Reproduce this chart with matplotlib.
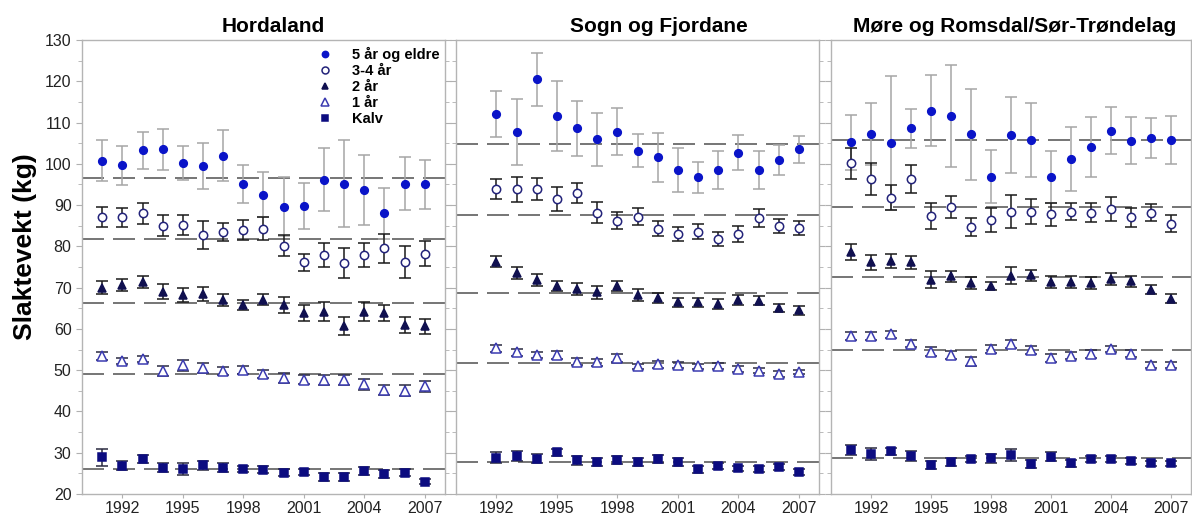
"""Carcass weight per age class and year for three regions, with region means."""

import matplotlib.pyplot as plt
import numpy as np
from matplotlib.lines import Line2D
from matplotlib.ticker import MultipleLocator

plt.rcParams["font.family"] = ["Liberation Sans", "DejaVu Sans"]

YEARS_91 = list(range(1991, 2008))
YEARS_92 = list(range(1992, 2008))

REGIONS = ["Hordaland", "Sogn og Fjordane", "Møre og Romsdal/Sør-Trøndelag"]
CLASSES = ["5 år og eldre", "3-4 år", "2 år", "1 år", "Kalv"]

# Hordaland, 1991-2007
HORD_5 = [100.8, 99.6, 103.3, 103.5, 100.3, 99.5, 102.0, 95.2, 92.5, 89.6, 89.8, 96.2, 95.2, 93.7, 88.0, 95.2, 95.0]
HORD_5_ERR = [5.0, 4.7, 4.5, 4.9, 4.1, 5.5, 6.2, 4.6, 5.5, 7.2, 5.5, 7.7, 10.5, 8.5, 6.2, 6.4, 5.9]
HORD_34 = [87.2, 87.0, 88.0, 85.0, 85.1, 82.8, 83.5, 83.9, 84.3, 80.2, 76.1, 77.9, 76.0, 77.9, 79.5, 76.3, 78.2]
HORD_34_ERR = [2.4, 2.4, 2.5, 2.6, 2.4, 3.4, 2.1, 2.4, 2.7, 2.5, 2.1, 3.0, 3.7, 3.0, 3.6, 3.9, 3.0]
HORD_2 = [70.0, 70.6, 71.4, 69.0, 68.2, 68.4, 67.0, 65.8, 67.1, 65.8, 63.8, 64.2, 60.7, 64.1, 63.8, 61.0, 60.6]
HORD_2_ERR = [1.6, 1.4, 1.4, 1.8, 1.7, 1.7, 1.4, 1.3, 1.4, 1.9, 2.0, 2.2, 2.1, 2.3, 2.0, 2.0, 1.8]
HORD_1 = [53.4, 52.2, 52.7, 49.8, 51.2, 50.6, 49.8, 50.0, 49.0, 48.1, 47.7, 47.7, 47.6, 46.6, 45.3, 45.0, 46.1]
HORD_1_ERR = [0.9, 0.8, 0.8, 1.1, 1.3, 1.2, 1.0, 1.0, 1.0, 1.2, 1.1, 1.2, 1.2, 1.3, 1.2, 1.3, 1.3]
HORD_K = [28.9, 26.9, 28.4, 26.4, 26.1, 27.0, 26.4, 26.1, 25.9, 25.2, 25.3, 24.1, 24.1, 25.6, 24.8, 25.2, 23.0]
HORD_K_ERR = [2.1, 1.1, 1.0, 1.0, 1.4, 1.1, 1.0, 0.8, 0.8, 0.8, 0.8, 0.9, 1.0, 0.9, 1.0, 0.9, 0.7]
HORD_MEAN = [96.5, 81.7, 66.2, 49.1, 26.1]

# Sogn og Fjordane, 1992-2007
SOGN_5 = [112.0, 107.6, 120.5, 111.6, 108.6, 105.9, 107.8, 103.2, 101.6, 98.5, 96.7, 98.5, 102.7, 98.6, 100.9, 103.5]
SOGN_5_ERR = [5.6, 8.0, 6.4, 8.4, 6.6, 6.5, 5.7, 4.0, 5.9, 5.3, 3.8, 4.6, 4.3, 4.6, 3.6, 3.2]
SOGN_34 = [93.9, 93.8, 93.9, 91.5, 93.0, 88.2, 86.2, 87.2, 84.3, 83.0, 83.5, 81.8, 83.0, 86.9, 85.0, 84.5]
SOGN_34_ERR = [2.4, 3.0, 2.6, 2.9, 2.4, 2.5, 2.1, 2.1, 1.9, 1.8, 1.8, 1.8, 1.9, 2.1, 1.7, 1.7]
SOGN_2 = [76.3, 73.5, 71.9, 70.4, 69.7, 68.9, 70.4, 68.2, 67.4, 66.4, 66.4, 66.0, 67.0, 66.8, 65.1, 64.5]
SOGN_2_ERR = [1.4, 1.5, 1.5, 1.1, 1.5, 1.6, 1.1, 1.4, 1.2, 1.1, 1.0, 1.2, 1.1, 1.1, 1.0, 1.1]
SOGN_1 = [55.3, 54.3, 53.7, 53.7, 52.1, 51.9, 52.9, 50.9, 51.4, 51.3, 50.9, 51.0, 50.3, 49.9, 49.1, 49.5]
SOGN_1_ERR = [0.8, 0.9, 0.8, 0.9, 0.9, 0.9, 0.9, 0.7, 0.9, 0.8, 0.7, 0.7, 0.7, 0.6, 0.7, 0.5]
SOGN_K = [28.8, 29.3, 28.5, 30.1, 28.2, 27.8, 28.2, 27.7, 28.4, 27.8, 26.0, 26.8, 26.2, 26.0, 26.6, 25.4]
SOGN_K_ERR = [1.4, 1.2, 1.1, 0.8, 1.1, 1.0, 1.0, 1.0, 1.0, 0.9, 0.8, 0.7, 0.6, 0.7, 0.7, 0.7]
SOGN_MEAN = [104.8, 87.5, 68.6, 51.8, 27.7]

# Møre og Romsdal / Sør-Trøndelag, 1991-2007
MORE_5 = [105.2, 107.2, 105.0, 108.6, 112.9, 111.6, 107.2, 96.9, 107.0, 105.8, 96.9, 101.1, 104.1, 108.0, 105.6, 106.2, 105.8]
MORE_5_ERR = [6.7, 7.6, 16.3, 4.8, 8.7, 12.3, 11.0, 6.5, 9.2, 8.9, 6.3, 7.8, 7.2, 5.7, 5.7, 4.9, 5.9]
MORE_34 = [100.1, 96.3, 91.8, 96.3, 87.4, 89.6, 84.7, 86.3, 88.4, 88.4, 87.8, 88.4, 88.2, 89.0, 87.1, 88.2, 85.5]
MORE_34_ERR = [3.8, 3.9, 3.1, 3.3, 3.1, 2.7, 2.2, 2.9, 4.0, 3.1, 2.8, 2.1, 2.4, 2.9, 2.3, 2.0, 2.1]
MORE_2 = [78.7, 76.1, 76.5, 76.1, 71.9, 72.7, 71.1, 70.4, 72.9, 73.0, 71.3, 71.3, 71.1, 72.1, 71.5, 69.5, 67.3]
MORE_2_ERR = [1.9, 1.9, 1.7, 1.5, 2.1, 1.3, 1.5, 1.0, 2.1, 1.3, 1.5, 1.5, 1.4, 1.5, 1.3, 1.1, 1.1]
MORE_1 = [58.3, 58.3, 58.7, 56.4, 54.5, 53.7, 52.2, 55.1, 56.3, 54.9, 53.0, 53.5, 53.9, 55.1, 54.0, 51.3, 51.3]
MORE_1_ERR = [0.9, 0.9, 0.8, 0.8, 1.1, 0.9, 1.1, 0.9, 1.0, 0.9, 1.0, 0.9, 0.9, 0.8, 0.9, 0.8, 0.7]
MORE_K = [30.7, 29.7, 30.3, 29.3, 27.0, 27.7, 28.4, 28.6, 29.4, 27.3, 29.0, 27.4, 28.4, 28.5, 28.0, 27.4, 27.4]
MORE_K_ERR = [1.2, 1.4, 0.8, 1.2, 0.9, 0.9, 0.7, 1.1, 1.4, 1.0, 1.1, 0.8, 0.7, 0.7, 0.8, 0.6, 0.6]
MORE_MEAN = [105.8, 89.6, 72.5, 54.9, 28.6]

PANELS = [
    (YEARS_91, [(HORD_5, HORD_5_ERR), (HORD_34, HORD_34_ERR), (HORD_2, HORD_2_ERR),
                (HORD_1, HORD_1_ERR), (HORD_K, HORD_K_ERR)], HORD_MEAN),
    (YEARS_92, [(SOGN_5, SOGN_5_ERR), (SOGN_34, SOGN_34_ERR), (SOGN_2, SOGN_2_ERR),
                (SOGN_1, SOGN_1_ERR), (SOGN_K, SOGN_K_ERR)], SOGN_MEAN),
    (YEARS_91, [(MORE_5, MORE_5_ERR), (MORE_34, MORE_34_ERR), (MORE_2, MORE_2_ERR),
                (MORE_1, MORE_1_ERR), (MORE_K, MORE_K_ERR)], MORE_MEAN),
]

# marker, face, edge, size, error bar colour per age class
STYLES = [
    dict(marker="o", mfc="#0a14c8", mec="#0a14c8", ms=5.5, ecolor="#a6a6a6"),
    dict(marker="o", mfc="white", mec="#23237a", ms=6, ecolor="#1a1a1a"),
    dict(marker="^", mfc="#101050", mec="#101050", ms=6, ecolor="#1a1a1a"),
    dict(marker="^", mfc="white", mec="#3a3ab0", ms=6.5, ecolor="#2a2a40"),
    dict(marker="s", mfc="#0c0c80", mec="#0c0c80", ms=5.5, ecolor="#2a2a40"),
]

fig = plt.figure(figsize=(11.92, 5.15), dpi=100)
lefts = [0.0688, 0.3826, 0.6971]
widths = [0.3045, 0.3045, 0.3022]
title_x = [0.526, 0.56, 0.51]
bottom, height = 0.0408, 0.8815

axes = []
for i, (years, series, means) in enumerate(PANELS):
    ax = fig.add_axes([lefts[i], bottom, widths[i], height])
    axes.append(ax)
    for m in means:
        ax.axhline(m, color="#5e5e5e", lw=1.2, dashes=(13.2, 5.4), zorder=1)
    for (vals, errs), st in zip(series, STYLES):
        ax.errorbar(
            years, vals, yerr=errs, fmt=st["marker"], ms=st["ms"],
            mfc=st["mfc"], mec=st["mec"], mew=1.1,
            ecolor=st["ecolor"], elinewidth=1.1, capsize=4.5, capthick=1.1,
            zorder=3,
        )
    ax.set_xlim(1990, 2008)
    ax.set_ylim(20, 130)
    ax.set_xticks(range(1992, 2008, 3))
    ax.yaxis.set_major_locator(MultipleLocator(10))
    ax.yaxis.set_minor_locator(MultipleLocator(5))
    ax.tick_params(axis="both", which="both", direction="out", color="#b0b0b0",
                   labelsize=11.5, labelcolor="#222222", right=True)
    ax.tick_params(axis="y", which="major", length=4)
    ax.tick_params(axis="y", which="minor", length=3)
    ax.tick_params(axis="x", length=3, pad=2)
    for sp in ax.spines.values():
        sp.set_color("#b4b4b4")
        sp.set_linewidth(1.0)
    if i > 0:
        ax.tick_params(axis="y", which="both", labelleft=False)
    ax.set_title(REGIONS[i], x=title_x[i], fontsize=15, fontweight="bold", pad=6)

axes[0].set_ylabel("Slaktevekt (kg)", fontsize=19, fontweight="bold", labelpad=5)
axes[0].yaxis.set_label_coords(-0.125, 0.545)

handles = [
    Line2D([], [], ls="none", marker=st["marker"], mfc=st["mfc"], mec=st["mec"],
           ms=st["ms"] - 1, mew=1.1)
    for st in STYLES
]
axes[0].legend(
    handles, CLASSES, loc="upper right", bbox_to_anchor=(1.008, 1.004),
    frameon=False, prop=dict(weight="bold", size=10.5), handletextpad=1.0,
    labelspacing=0.14, borderaxespad=0.2, handlelength=1.6,
)

fig.savefig("out.png", dpi=100)
